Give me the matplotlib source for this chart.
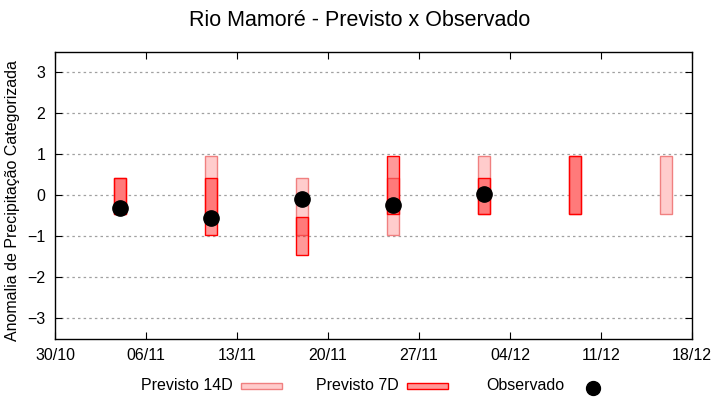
import datetime as dt

import matplotlib
matplotlib.use("Agg")
import matplotlib.dates as mdates
import matplotlib.pyplot as plt
import numpy as np
from matplotlib.lines import Line2D
from matplotlib.patches import Rectangle

plt.rcParams["font.family"] = ["Liberation Sans", "DejaVu Sans"]

# forecast dates (one bar per week)
datas = ["2022-11-04", "2022-11-11", "2022-11-18", "2022-11-25",
         "2022-12-02", "2022-12-09", "2022-12-16"]

# Previsto 14D: faixa inferior / superior
prev14_base = [-0.45, -0.45, -0.96, -0.96, -0.45, -0.45, -0.45]
prev14_topo = [0.43, 0.95, 0.43, 0.43, 0.95, 0.95, 0.95]

# Previsto 7D: faixa inferior / superior (sem previsao na ultima semana)
prev7_base = [-0.45, -0.96, -1.45, -0.45, -0.45, -0.45, np.nan]
prev7_topo = [0.43, 0.43, -0.52, 0.95, 0.43, 0.95, np.nan]

# Observado
observado = [-0.32, -0.55, -0.10, -0.23, 0.02, np.nan, np.nan]

x_ticks = ["2022-10-30", "2022-11-06", "2022-11-13", "2022-11-20",
           "2022-11-27", "2022-12-04", "2022-12-11", "2022-12-18"]

COR14_FACE = "#ffcccc"
COR14_EDGE = "#f08080"
COR7_FACE = (1.0, 0.0, 0.0, 0.4)
COR7_EDGE = "#ff0000"
FS = 11.5

x = [dt.datetime.strptime(d, "%Y-%m-%d") for d in datas]
xt = [dt.datetime.strptime(d, "%Y-%m-%d") for d in x_ticks]

fig = plt.figure(figsize=(7.2, 4.0), dpi=100)
ax = fig.add_axes([55 / 720, 1 - 338.5 / 400, 637 / 720, 286.5 / 400])

b14 = np.array(prev14_base)
t14 = np.array(prev14_topo)
b7 = np.array(prev7_base)
t7 = np.array(prev7_topo)

ax.bar(x, t14 - b14, bottom=b14, width=0.95, color=COR14_FACE,
       edgecolor=COR14_EDGE, linewidth=1.0, zorder=2)
ax.bar(x, t7 - b7, bottom=b7, width=0.95, color=COR7_FACE,
       edgecolor=COR7_EDGE, linewidth=1.0, zorder=3)
ax.plot(x, observado, "o", color="black", markersize=11, zorder=4)

ax.set_xlim(xt[0], xt[-1])
ax.set_ylim(-3.5, 3.5)
ax.set_xticks(xt)
ax.xaxis.set_major_formatter(mdates.DateFormatter("%d/%m"))
ax.set_yticks(range(-3, 4))
ax.tick_params(direction="in", length=5, labelsize=FS, top=True, right=True,
               colors="black")
ax.tick_params(axis="x", pad=7)
ax.tick_params(axis="y", pad=7)
ax.yaxis.grid(True, linestyle=(0, (2, 2.5)), color="#a0a0a0", linewidth=0.9)
ax.set_axisbelow(True)
for s in ax.spines.values():
    s.set_linewidth(1.0)

ax.set_ylabel("Anomalia de Precipitação Categorizada", fontsize=FS)
ax.yaxis.set_label_coords(-35 / 637, 0.483)
fig.text(0.5, 1 - 20 / 400, "Rio Mamoré - Previsto x Observado",
         ha="center", va="center", fontsize=15.5)

# legenda embaixo
ly = 1 - 386 / 400
fig.text(233 / 720, ly, "Previsto 14D", ha="right", va="center", fontsize=FS)
fig.patches.append(Rectangle((241 / 720, ly - 3 / 400), 41 / 720, 6 / 400,
                             transform=fig.transFigure, facecolor=COR14_FACE,
                             edgecolor=COR14_EDGE, linewidth=1.0))
fig.text(399 / 720, ly, "Previsto 7D", ha="right", va="center", fontsize=FS)
fig.patches.append(Rectangle((407 / 720, ly - 3 / 400), 41 / 720, 6 / 400,
                             transform=fig.transFigure, facecolor="#ff9999",
                             edgecolor=COR7_EDGE, linewidth=1.0))
fig.text(564 / 720, ly, "Observado", ha="right", va="center", fontsize=FS)
fig.lines.append(Line2D([593 / 720], [1 - 388 / 400], marker="o", color="black",
                        markersize=10, transform=fig.transFigure))

fig.savefig("out.png", dpi=100)
